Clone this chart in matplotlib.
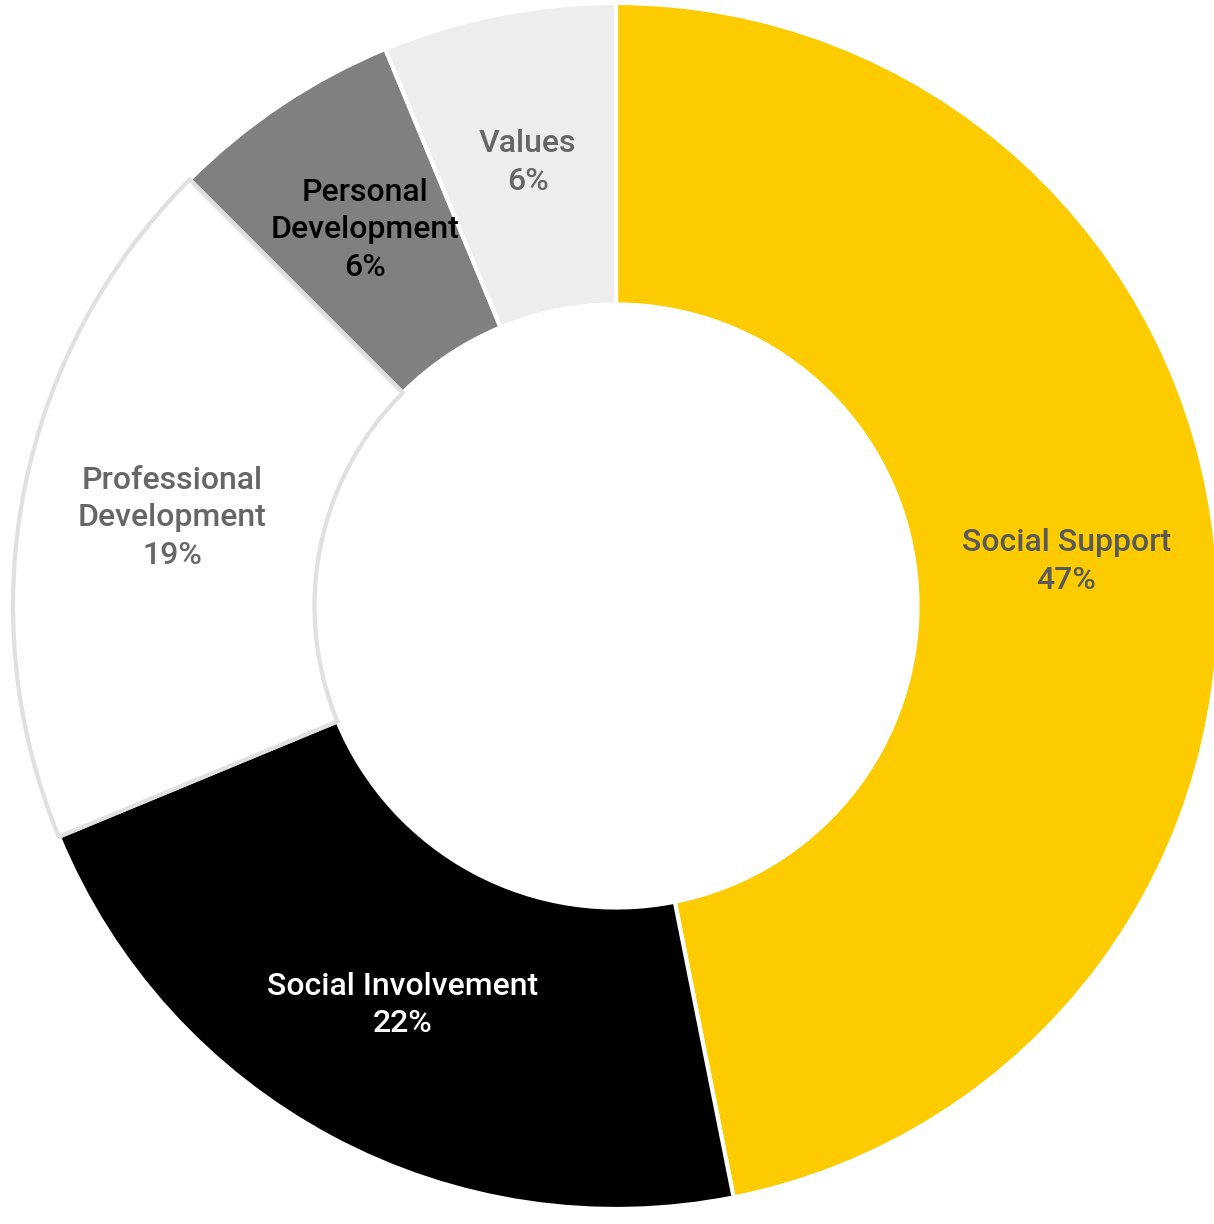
import numpy as np
import matplotlib
matplotlib.use('Agg')
import matplotlib.pyplot as plt

categories = ['Social Support', 'Social Involvement', 'Professional\nDevelopment', 'Personal\nDevelopment', 'Values']
counts = [15, 7, 6, 2, 2]
colors = ['#FCCC00', '#000000', '#FFFFFF', '#808080', '#EDEDED']
edges = ['white', 'white', '#E0E0E0', 'white', 'white']
text_colors = ['#595959', '#FFFFFF', '#666666', '#000000', '#666666']

plt.rcParams['font.family'] = ['Roboto', 'DejaVu Sans']

fig = plt.figure(figsize=(12.14, 12.24), dpi=100)
ax = fig.add_axes([13/1214, 15/1224, 1206/1214, 1206/1224])

wedges, _ = ax.pie(counts, colors=colors, startangle=90, counterclock=False,
                   radius=1.0, wedgeprops=dict(width=0.5, linewidth=3, edgecolor='white'))
for w, ec in zip(wedges, edges):
    w.set_edgecolor(ec)
# grey-outlined slice on top so its border shows
wedges[2].set_zorder(3)

total = sum(counts)
for w, cat, c, tc in zip(wedges, categories, counts, text_colors):
    ang = np.deg2rad((w.theta1 + w.theta2) / 2)
    x, y = 0.75 * np.cos(ang), 0.75 * np.sin(ang)
    pct = round(100 * c / total)
    ax.text(x, y, f'{cat}\n{pct}%', ha='center', va='center', color=tc,
            fontsize=23, fontweight='medium', linespacing=1.37, zorder=5)

ax.set_xlim(-1, 1)
ax.set_ylim(-1, 1)
ax.set_aspect('equal')
ax.axis('off')

fig.savefig('out.png', dpi=100)
